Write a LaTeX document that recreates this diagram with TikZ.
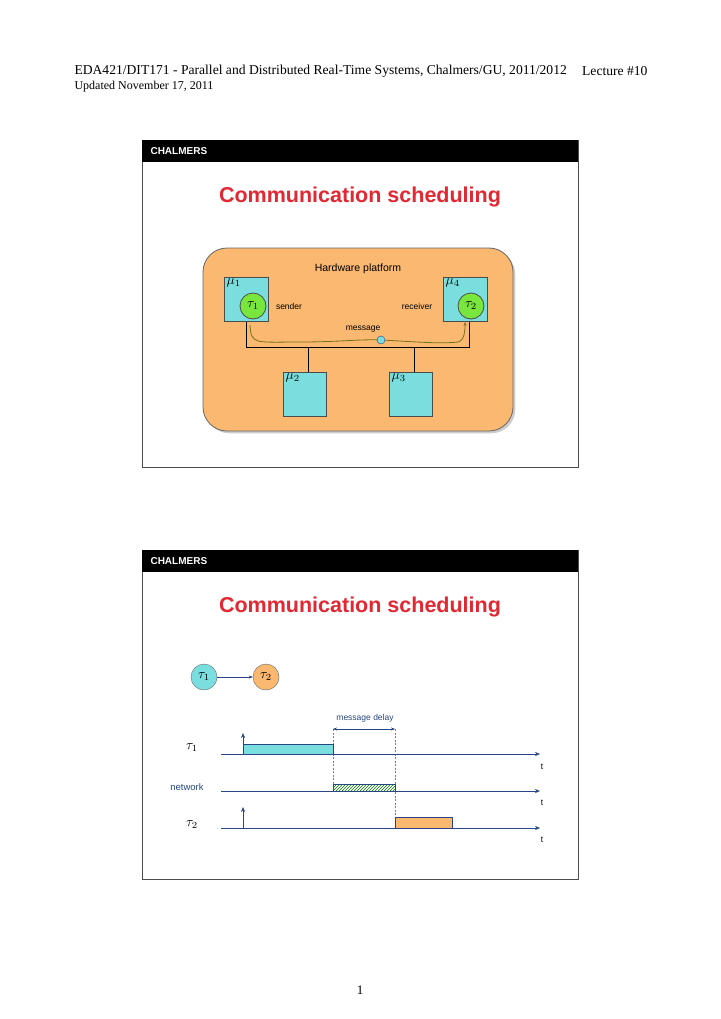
\documentclass[tikz,border=0pt]{standalone}
\usepackage{fontspec}
\setmainfont{Liberation Serif}
\newfontfamily\slidesf{Liberation Sans}
\usetikzlibrary{patterns,arrows.meta,shadows}
\definecolor{cyanbox}{RGB}{122,222,222}
\definecolor{orng}{RGB}{250,184,112}
\definecolor{grn}{RGB}{120,230,60}
\definecolor{ttl}{RGB}{226,40,50}
\definecolor{nav}{RGB}{40,70,130}
\newcommand{\myBigMath}[1]{\scalebox{1.35}{$#1$}}
\begin{document}
\begin{tikzpicture}[x=1pt,y=-1pt,
  box/.style={draw=black!70,fill=cyanbox,thick},
  lbl/.style={font=\slidesf\fontsize{8.5}{9}\selectfont},
  ax/.style={draw=nav,-{Stealth[length=5pt,width=4pt]}},
  frame/.style={draw=black!70,thick},
  dl/.style={draw=nav!70,dash pattern=on 2pt off 1.5pt,thin}]
\useasboundingbox (0,0) rectangle (720,1019);
\fill[white] (0,0) rectangle (720,1019);
\node[anchor=west,font=\fontsize{13.6}{15}\selectfont] (hd) at (71,71) {EDA421/DIT171 - Parallel and Distributed Real-Time Systems, Chalmers/GU, 2011/2012};
\node[anchor=east,font=\fontsize{13.6}{15}\selectfont] (lec) at (651,71) {Lecture \#10};
\node[anchor=west,font=\fontsize{12}{13}\selectfont] (upd) at (71,87) {Updated November 17, 2011};
\node[font=\fontsize{13}{14}\selectfont] (pg) at (360,990) {1};
% slide 1
\draw[frame] (142,140) rectangle (578,467);
\fill[black] (142,140) rectangle (578,162);
\node[anchor=west,text=white,font=\slidesf\bfseries\fontsize{10}{11}\selectfont] (c1) at (147,151) {CHALMERS};
\node[text=ttl,font=\slidesf\bfseries\fontsize{21.5}{24}\selectfont] (t1) at (360,197) {Communication scheduling};
\draw[fill=orng,draw=black!60,thick,rounded corners=24,drop shadow={opacity=0.4}] (203,248) rectangle (513,431);
\node[font=\slidesf\fontsize{10.5}{12}\selectfont] (hp) at (358,269) {Hardware platform};
\draw (246,321) -- (246,347) -- (469,347) -- (469,321);
\draw (308,347) -- (308,372); \draw (414,347) -- (414,372);
\draw[box] (224,277) rectangle (268,321);
\draw[box] (443,277) rectangle (487,321);
\draw[box] (283,372) rectangle (326,416);
\draw[box] (389,372) rectangle (432,416);
\node[anchor=north west,inner sep=1.5pt] at (225,277) {\myBigMath{\mu_1}};
\node[anchor=north west,inner sep=1.5pt] at (444,277) {\myBigMath{\mu_4}};
\node[anchor=north west,inner sep=1.5pt] at (284,372) {\myBigMath{\mu_2}};
\node[anchor=north west,inner sep=1.5pt] at (390,372) {\myBigMath{\mu_3}};
\node[circle,draw=black!70,fill=grn,thick,minimum size=26pt,inner sep=0] (a1) at (253,306) {\myBigMath{\tau_1}};
\node[circle,draw=black!70,fill=grn,thick,minimum size=26pt,inner sep=0] (a2) at (471,306) {\myBigMath{\tau_2}};
\node[lbl] (snd) at (289,306) {sender};
\node[lbl] (rcv) at (417,306) {receiver};
\node[lbl] (msg) at (363,329) {message};
\draw[draw=olive!80!black,thick,-{Stealth[length=4pt,width=3pt]}] (250,325) .. controls (251,345) and (255,342) .. (300,342) .. controls (340,342) and (360,339) .. (381,340) .. controls (420,342) and (440,344) .. (458,342) .. controls (465,340) and (465,330) .. (465,322);
\node[circle,draw=nav,fill=cyanbox,minimum size=8pt,inner sep=0] (m) at (381,340) {};
% slide 2
\draw[frame] (142,550) rectangle (578,879);
\fill[black] (142,550) rectangle (578,572);
\node[anchor=west,text=white,font=\slidesf\bfseries\fontsize{10}{11}\selectfont] (c2) at (147,561) {CHALMERS};
\node[text=ttl,font=\slidesf\bfseries\fontsize{21.5}{24}\selectfont] (t2) at (360,607) {Communication scheduling};
\node[circle,draw=black!60,fill=cyanbox,minimum size=26pt,inner sep=0] (b1) at (204,677) {\myBigMath{\tau_1}};
\node[circle,draw=black!60,fill=orng,minimum size=26pt,inner sep=0] (b2) at (266,677) {\myBigMath{\tau_2}};
\draw[draw=nav,-{Stealth[length=4pt,width=3pt]}] (b1) -- (b2);
\node[lbl,text=nav] (md) at (365,718) {message delay};
\draw[dl] (333,729) -- (333,791);
\draw[dl] (395,729) -- (395,828);
\draw[draw=nav,{Stealth[length=4pt,width=3pt]}-{Stealth[length=4pt,width=3pt]}] (333,729) -- (395,729);
\draw[fill=cyanbox,draw=nav] (243,744) rectangle (333,754);
\draw[pattern=north east lines,pattern color=green!50!black,draw=nav] (333,784) rectangle (395,791);
\draw[fill=orng,draw=nav] (395,817) rectangle (452,828);
\draw[ax] (221,754) -- (540,754);
\draw[ax] (221,791) -- (540,791);
\draw[ax] (221,828) -- (540,828);
\draw[ax] (243,754) -- (243,733);
\draw[ax] (243,828) -- (243,807);
\node (r1) at (192,748) {\myBigMath{\tau_1}};
\node (r3) at (192,825) {\myBigMath{\tau_2}};
\node[text=nav,font=\slidesf\fontsize{9.5}{10}\selectfont] (r2) at (187,787) {network};
\node[lbl] at (542,767) {t};
\node[lbl] at (542,803) {t};
\node[lbl] at (542,840) {t};
\end{tikzpicture}
\end{document}
